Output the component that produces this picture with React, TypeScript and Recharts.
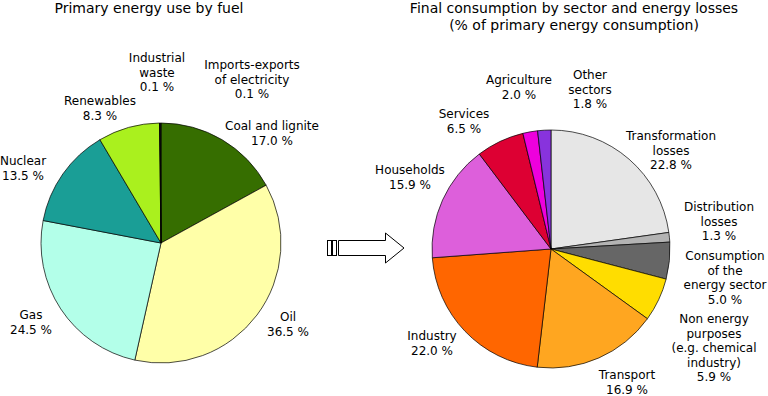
import React from 'react'
import { PieChart, Pie, Cell } from 'recharts'

// Primary energy use by fuel (%), clockwise from 12 o'clock
const fuelNames = [
  'Coal and lignite',
  'Oil',
  'Gas',
  'Nuclear',
  'Renewables',
  'Industrial\nwaste',
  'Imports-exports\nof electricity',
]
const fuelValues = [17.0, 36.5, 24.5, 13.5, 8.3, 0.1, 0.1]
const fuelColors = ['#366e00', '#ffffa8', '#b3ffe9', '#1a9e96', '#aaf01e', '#000000', '#222222']

// Final consumption by sector and energy losses (%), clockwise from 12 o'clock
const sectorNames = [
  'Transformation\nlosses',
  'Distribution\nlosses',
  'Consumption\nof the\nenergy sector',
  'Non energy\npurposes\n(e.g. chemical\nindustry)',
  'Transport',
  'Industry',
  'Households',
  'Services',
  'Agriculture',
  'Other\nsectors',
]
const sectorValues = [22.8, 1.3, 5.0, 5.9, 16.9, 22.0, 15.9, 6.5, 2.0, 1.8]
const sectorColors = [
  '#e6e6e6', '#b3b3b3', '#666666', '#ffdd00', '#ffa620',
  '#ff6600', '#dd5fdb', '#dd0033', '#ee00dd', '#8833dd',
]

const fuelData = fuelNames.map((name, i) => ({ name, value: fuelValues[i] }))
const sectorData = sectorNames.map((name, i) => ({ name, value: sectorValues[i] }))

// label offsets from the pie centre (first line)
const fuelLabelPos = [
  [111, -117], [127, 74], [-130, 72], [-138, -82], [-61, -142], [-4, -185], [91, -178],
]
const sectorLabelPos = [
  [120, -113], [168, -42], [174, 7], [163, 70], [76, 126],
  [-119, 87], [-141, -79], [-87, -135], [-32, -169], [39, -174],
]

const FONT = '"DejaVu Sans", Verdana, sans-serif'

function makeLabel(pos: number[][]) {
  return (props: any) => {
    const { cx, cy, index, name, value } = props
    const [dx, dy] = pos[index]
    const lines = [...String(name).split('\n'), `${Number(value).toFixed(1)} %`]
    return (
      <text
        x={cx + dx}
        y={cy + dy}
        textAnchor="middle"
        dominantBaseline="central"
        fontFamily={FONT}
        fontSize={12}
        fill="#000"
      >
        {lines.map((l, i) => (
          <tspan key={i} x={cx + dx} dy={i === 0 ? 0 : 14.5}>
            {l}
          </tspan>
        ))}
      </text>
    )
  }
}

export default function App() {
  return (
    <div style={{ position: 'fixed', left: 0, top: 0, width: 768, height: 396, background: '#fff' }}>
      <PieChart width={768} height={396} margin={{ top: 0, right: 0, bottom: 0, left: 0 }}>
        <Pie
          data={fuelData}
          dataKey="value"
          nameKey="name"
          cx={161}
          cy={243}
          outerRadius={120}
          startAngle={90}
          endAngle={-270}
          stroke="#000"
          strokeWidth={0.7}
          labelLine={false}
          label={makeLabel(fuelLabelPos)}
          isAnimationActive={false}
        >
          {fuelData.map((d, i) => (
            <Cell key={d.name} fill={fuelColors[i]} />
          ))}
        </Pie>
        <Pie
          data={sectorData}
          dataKey="value"
          nameKey="name"
          cx={551}
          cy={249}
          outerRadius={119}
          startAngle={90}
          endAngle={-270}
          stroke="#000"
          strokeWidth={0.7}
          labelLine={false}
          label={makeLabel(sectorLabelPos)}
          isAnimationActive={false}
        >
          {sectorData.map((d, i) => (
            <Cell key={d.name} fill={sectorColors[i]} />
          ))}
        </Pie>
      </PieChart>
      <svg
        width={768}
        height={396}
        style={{ position: 'absolute', left: 0, top: 0, pointerEvents: 'none' }}
      >
        <g fontFamily={FONT} fontSize={14} fill="#000" textAnchor="middle">
          <text x={149} y={8} dominantBaseline="central">Primary energy use by fuel</text>
          <text x={574} y={8} dominantBaseline="central">Final consumption by sector and energy losses</text>
          <text x={574} y={25} dominantBaseline="central">(% of primary energy consumption)</text>
        </g>
        <g fill="#fff" stroke="#000" strokeWidth={1}>
          <rect x={327.5} y={240.5} width={4} height={15} />
          <rect x={332.5} y={240.5} width={4} height={15} />
          <path d="M338.5,240.5 L385.5,240.5 L385.5,233 L404,248 L385.5,263 L385.5,255.5 L338.5,255.5 Z" />
        </g>
      </svg>
    </div>
  )
}
